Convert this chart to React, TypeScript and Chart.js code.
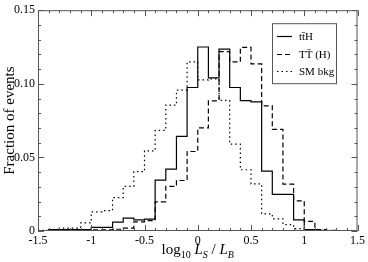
import React, { useEffect, useRef } from "react";
import { Chart, registerables } from "chart.js";

Chart.register(...registerables);

// Bin edges of the histogram (log10 LS/LB)
const binEdges = [
  -1.5, -1.4, -1.3, -1.2, -1.1, -1.0, -0.9, -0.8, -0.7, -0.6, -0.5, -0.4, -0.3, -0.2, -0.1,
  0.0, 0.1, 0.2, 0.3, 0.4, 0.5, 0.6, 0.7, 0.8, 0.9, 1.0, 1.1, 1.2, 1.3, 1.4, 1.5,
];

// Fraction of events per bin (30 bins)
const ttH = [
  0, 0.001, 0.001, 0.001, 0.001, 0.0025, 0.0025, 0.006, 0.0088, 0.0075, 0.008, 0.0345, 0.042, 0.0643, 0.0975,
  0.125, 0.104, 0.1235, 0.0975, 0.0886, 0.0877, 0.0407, 0.0249, 0.0249, 0.0076, 0.001, 0.0005, 0, 0, 0,
];
const TTH = [
  0, 0.0005, 0.0005, 0.0005, 0.0005, 0.0007, 0.0007, 0.0012, 0.002, 0.0062, 0.007, 0.0198, 0.0303, 0.0343, 0.054,
  0.07, 0.0884, 0.1218, 0.1149, 0.1247, 0.1135, 0.085, 0.069, 0.0318, 0.0205, 0.0065, 0.001, 0.0005, 0, 0,
];
const smBkg = [
  0.0005, 0.001, 0.002, 0.002, 0.0055, 0.013, 0.0138, 0.0227, 0.0303, 0.0403, 0.0545, 0.0683, 0.0855, 0.0957, 0.1149,
  0.1026, 0.1033, 0.0888, 0.059, 0.0416, 0.032, 0.0116, 0.0083, 0.0043, 0.0016, 0.0005, 0, 0, 0, 0,
];

const seriesLabels = ["tt\u0304H", "TT\u0304 (H)", "SM bkg"];
const seriesDashes: number[][] = [[], [5, 3], [1.5, 3]];
const xTickLabels = ["-1.5", "-1", "-0.5", "0", "0.5", "1", "1.5"];
const yTickLabels = ["0", "0.05", "0.10", "0.15"];

const FONT = "'Liberation Serif', 'Times New Roman', serif";
const FRAME = "#555";

function toSteps(values: number[]) {
  return binEdges.map((x, i) => ({ x, y: values[Math.min(i, values.length - 1)] }));
}

const framePlugin = {
  id: "frameAndExtras",
  afterDraw(chart: any) {
    const { ctx, chartArea } = chart;
    const { left, right, top, bottom } = chartArea;
    const xs = chart.scales.x;
    const ys = chart.scales.y;
    ctx.save();
    ctx.strokeStyle = FRAME;
    ctx.lineWidth = 1;
    ctx.strokeRect(left + 0.5, top + 0.5, right - left - 1, bottom - top - 1);
    // x ticks (inside, bottom and top)
    for (let k = 0; k <= 30; k++) {
      const v = -1.5 + k * 0.1;
      const px = Math.round(xs.getPixelForValue(v)) + 0.5;
      const major = k % 5 === 0;
      const len = major ? 6 : 3;
      ctx.beginPath();
      ctx.moveTo(px, bottom);
      ctx.lineTo(px, bottom - len);
      ctx.moveTo(px, top);
      ctx.lineTo(px, top + len);
      ctx.stroke();
    }
    for (let k = 0; k <= 15; k++) {
      const v = k * 0.01;
      const py = Math.round(ys.getPixelForValue(v)) + 0.5;
      const major = k % 5 === 0;
      const len = major ? 6 : 3;
      ctx.beginPath();
      ctx.moveTo(left, py);
      ctx.lineTo(left + len, py);
      ctx.moveTo(right, py);
      ctx.lineTo(right - len, py);
      ctx.stroke();
    }
    // Legend box
    const bx = left + 234;
    const by = top + 13;
    const bw = 64;
    const bh = 60;
    ctx.fillStyle = "#fff";
    ctx.fillRect(bx, by, bw, bh);
    ctx.strokeStyle = FRAME;
    ctx.strokeRect(bx + 0.5, by + 0.5, bw, bh);
    ctx.font = `11px ${FONT}`;
    ctx.textBaseline = "middle";
    ctx.textAlign = "left";
    const ds = chart.data.datasets;
    for (let i = 0; i < ds.length; i++) {
      const ry = by + 13 + i * 17.5;
      ctx.strokeStyle = "#000";
      ctx.lineWidth = 1.2;
      ctx.setLineDash(seriesDashes[i]);
      ctx.beginPath();
      ctx.moveTo(bx + 5, Math.round(ry) + 0.5);
      ctx.lineTo(bx + 20, Math.round(ry) + 0.5);
      ctx.stroke();
      ctx.setLineDash([]);
      ctx.fillStyle = "#000";
      ctx.fillText(seriesLabels[i], bx + 27, ry + 1);
    }
    // Axis titles
    ctx.fillStyle = "#000";
    // y title
    ctx.save();
    ctx.translate(10, (top + bottom) / 2);
    ctx.rotate(-Math.PI / 2);
    ctx.textAlign = "center";
    ctx.font = `15px ${FONT}`;
    ctx.fillText("Fraction of events", 0, 0);
    ctx.restore();
    // x title with subscripts
    const parts: { t: string; f: string; dy: number }[] = [
      { t: "log", f: `15px ${FONT}`, dy: 0 },
      { t: "10", f: `10px ${FONT}`, dy: 4 },
      { t: " ", f: `15px ${FONT}`, dy: 0 },
      { t: "L", f: `italic 15px ${FONT}`, dy: 0 },
      { t: "S", f: `italic 10px ${FONT}`, dy: 4 },
      { t: " / ", f: `15px ${FONT}`, dy: 0 },
      { t: "L", f: `italic 15px ${FONT}`, dy: 0 },
      { t: "B", f: `italic 10px ${FONT}`, dy: 4 },
    ];
    let total = 0;
    const widths = parts.map((p) => {
      ctx.font = p.f;
      const w = ctx.measureText(p.t).width;
      total += w;
      return w;
    });
    let cx = (left + right) / 2 - total / 2;
    const baseY = 254;
    ctx.textBaseline = "alphabetic";
    ctx.textAlign = "left";
    parts.forEach((p, i) => {
      ctx.font = p.f;
      ctx.fillText(p.t, cx, baseY + p.dy);
      cx += widths[i];
    });
    ctx.restore();
  },
};

export default function App() {
  const ref = useRef<HTMLCanvasElement>(null);
  useEffect(() => {
    document.body.style.margin = "0";
    const canvas = ref.current;
    if (!canvas) return;
    const chart = new Chart(canvas, {
      type: "line",
      data: {
        datasets: [ttH, TTH, smBkg].map((vals, i) => ({
          label: seriesLabels[i],
          data: toSteps(vals),
          stepped: true,
          borderColor: "#000",
          borderWidth: 1.2,
          borderDash: seriesDashes[i],
          pointRadius: 0,
          fill: false,
          tension: 0,
        })),
      },
      options: {
        animation: false,
        responsive: false,
        maintainAspectRatio: false,
        layout: { padding: { top: 6, right: 8, left: 0, bottom: 0 } },
        plugins: { legend: { display: false }, tooltip: { enabled: false } },
        scales: {
          x: {
            type: "linear",
            min: -1.5,
            max: 1.5,
            grid: { display: false, drawTicks: false },
            border: { display: false },
            afterFit: (s: any) => {
              s.height = 31;
            },
            ticks: {
              stepSize: 0.5,
              padding: 3,
              color: "#000",
              font: { family: FONT, size: 12 },
              maxRotation: 0,
              callback: (_v: any, i: number) => xTickLabels[i],
            },
          },
          y: {
            type: "linear",
            min: 0,
            max: 0.15,
            grid: { display: false, drawTicks: false },
            border: { display: false },
            afterFit: (s: any) => {
              s.width = 38;
            },
            ticks: {
              stepSize: 0.05,
              padding: 3,
              color: "#000",
              font: { family: FONT, size: 12 },
              callback: (_v: any, i: number) => yTickLabels[i],
            },
          },
        },
      },
      plugins: [framePlugin],
    });
    return () => chart.destroy();
  }, []);
  return <canvas ref={ref} width={368} height={262} style={{ display: "block", width: 368, height: 262 }} />;
}
